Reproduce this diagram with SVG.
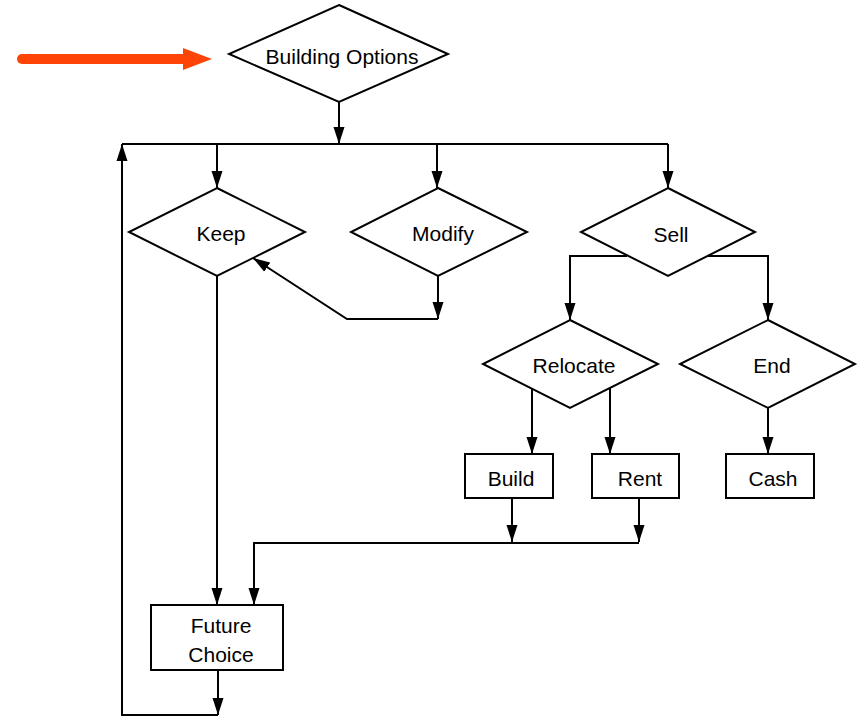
<svg xmlns="http://www.w3.org/2000/svg" width="858" height="718" viewBox="0 0 858 718">
  <defs>
    <marker id="arrow" markerUnits="userSpaceOnUse" markerWidth="18" markerHeight="12" refX="17" refY="6" orient="auto">
      <path d="M0,0.5 L17,6 L0,11.5 z" fill="#000"/>
    </marker>
    <style>
      .shape { fill: #fff; stroke: #000; stroke-width: 2; }
      .label { font-family: "Liberation Sans", Arial, sans-serif; font-size: 21px; fill: #000; text-anchor: middle; }
      .conn { fill: none; stroke: #000; stroke-width: 2; }
      .arr { marker-end: url(#arrow); }
    </style>
  </defs>
  <rect width="858" height="718" fill="#fff"/>

  <!-- entry pointer -->
  <g id="entry-pointer">
    <line x1="22" y1="59" x2="186" y2="59" stroke="#fe4406" stroke-width="10" stroke-linecap="round"/>
    <polygon points="183,48 212,59 183,70" fill="#fe4406"/>
  </g>

  <!-- connectors -->
  <g id="connectors">
    <path class="conn arr" d="M339,102 V144"/>
    <path class="conn" d="M122,144 H668"/>
    <path class="conn arr" d="M217,144 V188"/>
    <path class="conn arr" d="M437,144 V188"/>
    <path class="conn arr" d="M668,144 V188"/>
    <path class="conn arr" d="M438,276 V319"/>
    <path class="conn arr" d="M438,319 H347 L253,258"/>
    <path class="conn arr" d="M217,276 V605"/>
    <path class="conn arr" d="M627,256 H570 V320"/>
    <path class="conn arr" d="M708,256 H768 V320"/>
    <path class="conn arr" d="M532,389 V454"/>
    <path class="conn arr" d="M610,388 V454"/>
    <path class="conn arr" d="M768,408 V454"/>
    <path class="conn arr" d="M512,498 V542"/>
    <path class="conn arr" d="M639,498 V542"/>
    <path class="conn arr" d="M639,543 H254 V605"/>
    <path class="conn arr" d="M218,670 V715"/>
    <path class="conn arr" d="M218,715 H122 V144"/>
  </g>

  <g id="building-options">
    <polygon class="shape" points="339,5 448,54 339,102 229,54"/>
    <text class="label" x="342" y="64">Building Options</text>
  </g>

  <g id="keep">
    <polygon class="shape" points="217,188 305,232 217,276 129,232"/>
    <text class="label" x="221" y="241">Keep</text>
  </g>

  <g id="modify">
    <polygon class="shape" points="438,188 527,232 438,276 351,232"/>
    <text class="label" x="443" y="241">Modify</text>
  </g>

  <g id="sell">
    <polygon class="shape" points="668,188 755,232 668,276 581,232"/>
    <text class="label" x="671" y="242">Sell</text>
  </g>

  <g id="relocate">
    <polygon class="shape" points="570,320 658,364 570,408 483,364"/>
    <text class="label" x="574" y="373">Relocate</text>
  </g>

  <g id="end">
    <polygon class="shape" points="768,320 855,364 768,408 680,364"/>
    <text class="label" x="772" y="373">End</text>
  </g>

  <g id="build">
    <rect class="shape" x="465" y="454" width="88" height="44"/>
    <text class="label" x="511" y="486">Build</text>
  </g>

  <g id="rent">
    <rect class="shape" x="592" y="454" width="87" height="44"/>
    <text class="label" x="640" y="486">Rent</text>
  </g>

  <g id="cash">
    <rect class="shape" x="726" y="454" width="88" height="44"/>
    <text class="label" x="773" y="486">Cash</text>
  </g>

  <g id="future-choice">
    <rect class="shape" x="151" y="605" width="132" height="65"/>
    <text class="label" x="221" y="633">Future</text>
    <text class="label" x="221" y="662">Choice</text>
  </g>
</svg>
